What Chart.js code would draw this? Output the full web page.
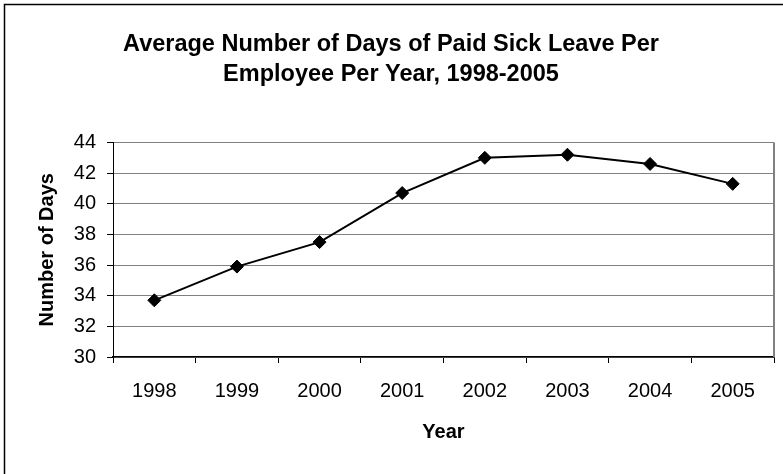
<!DOCTYPE html>
<html>
<head>
<meta charset="utf-8">
<title>Paid Sick Leave</title>
<script src="https://cdn.jsdelivr.net/npm/chart.js@4.4.1/dist/chart.umd.min.js"></script>
<style>
  html, body { margin:0; padding:0; background:#fff; overflow:hidden; }
  #wrap { position:relative; width:783px; height:474px; }
</style>
</head>
<body>
<div id="wrap"><canvas id="sickChart" width="783" height="474"></canvas></div>
<script>
// Days of paid sick leave per employee, by year
const years = ['1998','1999','2000','2001','2002','2003','2004','2005'];
const avgDays = [33.7, 35.9, 37.5, 40.7, 43.0, 43.2, 42.6, 41.3];
const yTicks = [30, 32, 34, 36, 38, 40, 42, 44];

const FONT = "'Liberation Sans', Arial, sans-serif";

// outer frame + grey plot-area edge on the right
const framePlugin = {
  id: 'frame',
  beforeDraw(chart) {
    const c = chart.ctx;
    c.save();
    c.strokeStyle = '#000';
    c.lineWidth = 1.5;
    c.strokeRect(4.5, 4.5, chart.width + 20, chart.height + 20);
    c.restore();
  },
  afterDatasetsDraw(chart) {
    const { ctx, chartArea } = chart;
    ctx.save();
    ctx.strokeStyle = '#808080';
    ctx.lineWidth = 2;
    ctx.beginPath();
    ctx.moveTo(chartArea.right, chartArea.top);
    ctx.lineTo(chartArea.right, chartArea.bottom);
    ctx.stroke();
    ctx.restore();
  }
};

new Chart(document.getElementById('sickChart'), {
  type: 'line',
  data: {
    labels: years,
    datasets: [{
      data: avgDays,
      borderColor: '#000',
      borderWidth: 2,
      tension: 0,
      pointStyle: 'rectRot',
      pointRadius: 6.5,
      pointBorderWidth: 1,
      pointBackgroundColor: '#000',
      pointBorderColor: '#000'
    }]
  },
  options: {
    responsive: false,
    animation: false,
    layout: { padding: { left: 8, right: 9, top: 0, bottom: 0 } },
    plugins: {
      legend: { display: false },
      tooltip: { enabled: false },
      title: {
        display: true,
        text: ['Average Number of Days of Paid Sick Leave Per', 'Employee Per Year, 1998-2005'],
        color: '#000',
        font: { family: FONT, size: 23.5, weight: 'bold', lineHeight: 30/23.5 },
        padding: { top: 30, bottom: 52.5 }
      }
    },
    scales: {
      x: {
        offset: true,
        grid: { offset: true, drawOnChartArea: false, tickLength: 6, tickColor: '#000' },
        border: { color: '#000', width: 1.5 },
        ticks: { color: '#000', padding: 16, font: { family: FONT, size: 20 } },
        title: {
          display: true, text: 'Year', color: '#000',
          font: { family: FONT, size: 20, weight: 'bold' },
          padding: { top: 0, bottom: 30 }
        },
        afterFit(s) { s.height = 117; }
      },
      y: {
        min: 30, max: 44,
        afterBuildTicks(s) { s.ticks = yTicks.map(v => ({ value: v })); },
        grid: { color: '#808080', lineWidth: 1, tickLength: 6, tickColor: '#000' },
        border: { color: '#000', width: 1 },
        ticks: { color: '#000', padding: 11, font: { family: FONT, size: 20 } },
        title: {
          display: true, text: 'Number of Days', color: '#000',
          font: { family: FONT, size: 20, weight: 'bold' },
          padding: { top: 27, bottom: 0 }
        },
        afterFit(s) { s.width = 105; }
      }
    }
  },
  plugins: [framePlugin]
});
</script>
</body>
</html>
